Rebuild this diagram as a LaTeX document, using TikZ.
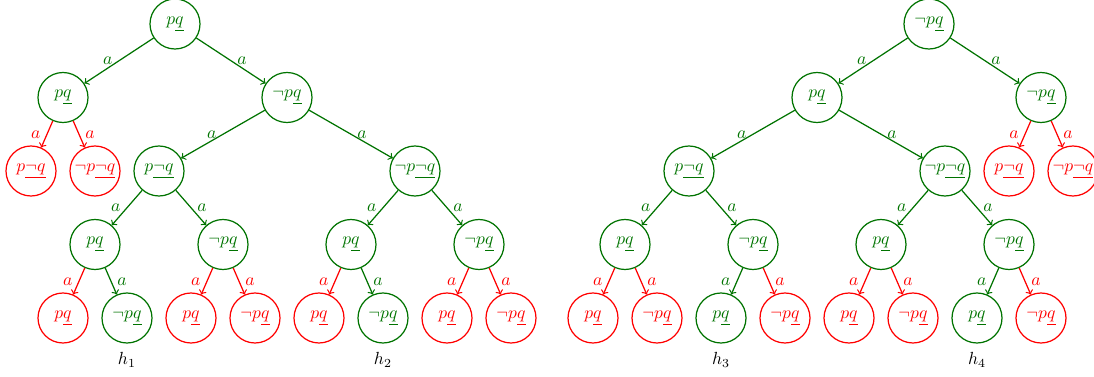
\documentclass[tikz,border=0pt]{standalone}
\usepackage{amsmath}
\usepackage{tikz}
\usetikzlibrary{positioning}
\colorlet{dgreen}{green!45!black}

\begin{document}
\begin{tikzpicture}[on grid, line width=0.7pt,
	g/.style= {circle, draw=dgreen, text=dgreen, minimum size=1cm, inner sep=0pt},
	r/.style= {circle, draw=red, text=red, minimum size=1cm, inner sep=0pt},
	ge/.style= {->, dgreen},
	re/.style= {->, red}]
		\useasboundingbox (-3.5,0.48) rectangle (18.38,-7.06);
		% first tree
		\node[g] (0) {$p\underline{q}$};
		\node[g] (1) [below left=1.47cm and 2.24cm of 0]{$p\underline{q}$};
		\node[g] (2) [below right=1.47cm and 2.24cm of 0]{$\neg p\underline{q}$};
		\node[r] (3) [below left=1.47cm and 0.64cm of 1]{$p\underline{\neg q}$};
		\node[r] (4) [below right=1.47cm and 0.64cm of 1]{$\neg p\underline{\neg q}$};
		\node[g] (5) [below left=1.47cm and 2.56cm of 2]{$p\underline{\neg q}$};
		\node[g] (6) [below right=1.47cm and 2.56cm of 2]{$\neg p\underline{\neg q}$};
		\node[g] (7) [below left=1.47cm and 1.28cm of 5]{$p\underline{q}$};
		\node[g] (8) [below right=1.47cm and 1.28cm of 5]{$\neg p\underline{q}$};
		\node[g] (9) [below left=1.47cm and 1.28cm of 6]{$p\underline{q}$};
		\node[g] (10) [below right=1.47cm and 1.28cm of 6]{$\neg p\underline{q}$};
		\node[r] (11) [below left=1.47cm and 0.64cm of 7]{$p\underline{q}$};
		\node[g] (12) [below right=1.47cm and 0.64cm of 7]{$\neg p\underline{q}$};
		\node[r] (13) [below left=1.47cm and 0.64cm of 8]{$p\underline{q}$};
		\node[r] (14) [below right=1.47cm and 0.64cm of 8]{$\neg p\underline{q}$};
		\node[r] (15) [below left=1.47cm and 0.64cm of 9]{$p\underline{q}$};
		\node[g] (16) [below right=1.47cm and 0.64cm of 9]{$\neg p\underline{q}$};
		\node[r] (17) [below left=1.47cm and 0.64cm of 10]{$p\underline{q}$};
		\node[r] (18) [below right=1.47cm and 0.64cm of 10]{$\neg p\underline{q}$};
		\node (h1) [below=0.84cm of 12]{$h_1$};
		\node (h2) [below=0.84cm of 16]{$h_2$};

		% second tree
		\node[g] (19) [right=15.08cm of 0]{$\neg p\underline{q}$};
		\node[g] (20) [below left=1.47cm and 2.24cm of 19]{$p\underline{q}$};
		\node[g] (21) [below right=1.47cm and 2.24cm of 19]{$\neg p\underline{q}$};
		\node[g] (22) [below left=1.47cm and 2.56cm of 20]{$p\underline{\neg q}$};
		\node[g] (23) [below right=1.47cm and 2.56cm of 20]{$\neg p\underline{\neg q}$};
		\node[r] (24) [below left=1.47cm and 0.64cm of 21]{$p\underline{\neg q}$};
		\node[r] (25) [below right=1.47cm and 0.64cm of 21]{$\neg p\underline{\neg q}$};
		\node[g] (26) [below left=1.47cm and 1.28cm of 22]{$p\underline{q}$};
		\node[g] (27) [below right=1.47cm and 1.28cm of 22]{$\neg p\underline{q}$};
		\node[g] (28) [below left=1.47cm and 1.28cm of 23]{$p\underline{q}$};
		\node[g] (29) [below right=1.47cm and 1.28cm of 23]{$\neg p\underline{q}$};
		\node[r] (30) [below left=1.47cm and 0.64cm of 26]{$p\underline{q}$};
		\node[r] (31) [below right=1.47cm and 0.64cm of 26]{$\neg p\underline{q}$};
		\node[g] (32) [below left=1.47cm and 0.64cm of 27]{$p\underline{q}$};
		\node[r] (33) [below right=1.47cm and 0.64cm of 27]{$\neg p\underline{q}$};
		\node[r] (34) [below left=1.47cm and 0.64cm of 28]{$p\underline{q}$};
		\node[r] (35) [below right=1.47cm and 0.64cm of 28]{$\neg p\underline{q}$};
		\node[g] (36) [below left=1.47cm and 0.64cm of 29]{$p\underline{q}$};
		\node[r] (37) [below right=1.47cm and 0.64cm of 29]{$\neg p\underline{q}$};
		\node (h3) [below=0.84cm of 32]{$h_3$};
		\node (h4) [below=0.84cm of 36]{$h_4$};

		\draw[ge] (0) -- node[left]{$a$} (1);
		\draw[ge] (0) -- node[right]{$a$} (2);
		\draw[re] (1) -- node[left]{$a$} (3);
		\draw[re] (1) -- node[right]{$a$} (4);
		\draw[ge] (2) -- node[left]{$a$} (5);
		\draw[ge] (2) -- node[right]{$a$} (6);
		\draw[ge] (5) -- node[left]{$a$} (7);
		\draw[ge] (5) -- node[right]{$a$} (8);
		\draw[ge] (6) -- node[left]{$a$} (9);
		\draw[ge] (6) -- node[right]{$a$} (10);
		\draw[re] (7) -- node[left]{$a$} (11);
		\draw[ge] (7) -- node[right]{$a$} (12);
		\draw[re] (8) -- node[left]{$a$} (13);
		\draw[re] (8) -- node[right]{$a$} (14);
		\draw[re] (9) -- node[left]{$a$} (15);
		\draw[ge] (9) -- node[right]{$a$} (16);
		\draw[re] (10) -- node[left]{$a$} (17);
		\draw[re] (10) -- node[right]{$a$} (18);

		\draw[ge] (19) -- node[left]{$a$} (20);
		\draw[ge] (19) -- node[right]{$a$} (21);
		\draw[ge] (20) -- node[left]{$a$} (22);
		\draw[ge] (20) -- node[right]{$a$} (23);
		\draw[re] (21) -- node[left]{$a$} (24);
		\draw[re] (21) -- node[right]{$a$} (25);
		\draw[ge] (22) -- node[left]{$a$} (26);
		\draw[ge] (22) -- node[right]{$a$} (27);
		\draw[ge] (23) -- node[left]{$a$} (28);
		\draw[ge] (23) -- node[right]{$a$} (29);
		\draw[re] (26) -- node[left]{$a$} (30);
		\draw[re] (26) -- node[right]{$a$} (31);
		\draw[ge] (27) -- node[left]{$a$} (32);
		\draw[re] (27) -- node[right]{$a$} (33);
		\draw[re] (28) -- node[left]{$a$} (34);
		\draw[re] (28) -- node[right]{$a$} (35);
		\draw[ge] (29) -- node[left]{$a$} (36);
		\draw[re] (29) -- node[right]{$a$} (37);
\end{tikzpicture}
\end{document}
